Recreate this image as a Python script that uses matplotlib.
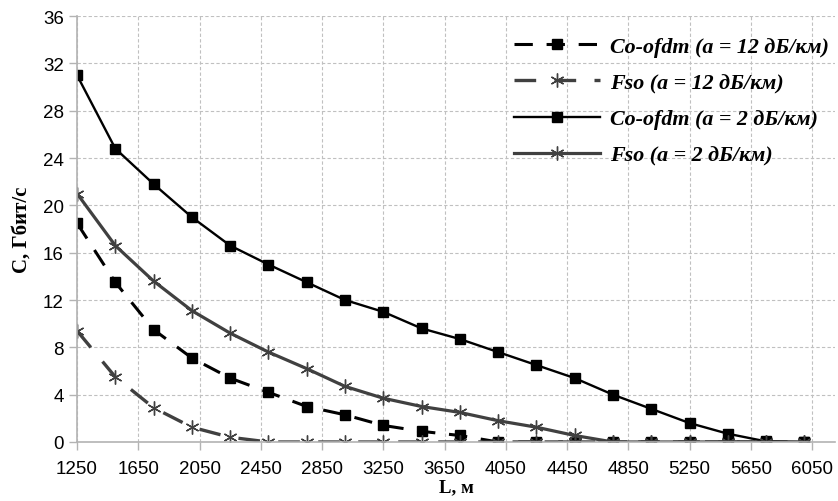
import matplotlib.pyplot as plt
import numpy as np

# distance, m
dist = np.arange(1250, 6001, 250)

# C, Gbit/s
co_ofdm_12 = [18.5, 13.5, 9.5, 7.1, 5.4, 4.2, 3.0, 2.3, 1.4, 0.9,
              0.55, 0, 0, 0, 0, 0, 0, 0, 0, 0]
fso_12 = [9.4, 5.5, 2.9, 1.25, 0.4, 0, 0, 0, 0, 0,
          0, 0, 0, 0, 0, 0, 0, 0, 0, 0]
co_ofdm_2 = [31.0, 24.8, 21.8, 19.0, 16.6, 15.0, 13.5, 12.0, 11.0, 9.6,
             8.7, 7.6, 6.5, 5.4, 4.0, 2.8, 1.6, 0.7, 0.05, 0]
fso_2 = [21.0, 16.6, 13.6, 11.1, 9.2, 7.6, 6.2, 4.7, 3.7, 3.0,
         2.5, 1.8, 1.25, 0.55, 0, 0, 0, 0, 0, 0]

labels = ['Co-ofdm (a = 12 дБ/км)', 'Fso (a = 12 дБ/км)',
          'Co-ofdm (a = 2 дБ/км)', 'Fso (a = 2 дБ/км)']

gray = '#404040'
star = (6, 2, 0)

fig = plt.figure(figsize=(8.38, 5.02), dpi=100)
ax = fig.add_axes([77 / 838, 59 / 502, (835 - 77) / 838, (443 - 17) / 502])

ax.plot(dist, co_ofdm_12, color='black', lw=2.2, dashes=(6, 4.5),
        marker='s', ms=7, label=labels[0])
ax.plot(dist, fso_12, color=gray, lw=2.4, dashes=(6.5, 5.5),
        marker=star, ms=10, mew=1.0, label=labels[1])
ax.plot(dist, co_ofdm_2, color='black', lw=1.7,
        marker='s', ms=7, label=labels[2])
ax.plot(dist, fso_2, color=gray, lw=2.3,
        marker=star, ms=10, mew=1.0, label=labels[3])

ax.set_xlim(1250, 6200)
ax.set_ylim(0, 36)
ax.set_xticks(np.arange(1250, 6051, 400))
ax.set_yticks(np.arange(0, 37, 4))

ax.grid(True, color='#c0c0c0', ls=(0, (3, 2)), lw=0.8)
ax.set_axisbelow(True)
for s in ['top', 'right']:
    ax.spines[s].set_visible(False)
for s in ['left', 'bottom']:
    ax.spines[s].set_color('#b3b3b3')
    ax.spines[s].set_linewidth(1.2)
ax.tick_params(axis='both', colors='#b3b3b3', labelcolor='black',
               labelsize=13.5, length=6, width=1)
ax.tick_params(axis='x', pad=7)
for lab in ax.get_xticklabels() + ax.get_yticklabels():
    lab.set_family('Liberation Sans')

ax.set_xlabel('L, м', family='Liberation Serif', fontweight='bold',
              fontsize=13.5, labelpad=1)
ax.set_ylabel('C, Гбит/с', family='Liberation Serif', fontweight='bold',
              fontsize=15, labelpad=8)

leg = ax.legend(loc='upper right', bbox_to_anchor=(1.018, 0.998), frameon=False,
                handlelength=3.9, handletextpad=0.45, labelspacing=0.72,
                prop={'family': 'Liberation Serif', 'style': 'italic',
                      'weight': 'bold', 'size': 15.8})

plt.savefig('out.png', dpi=100)
